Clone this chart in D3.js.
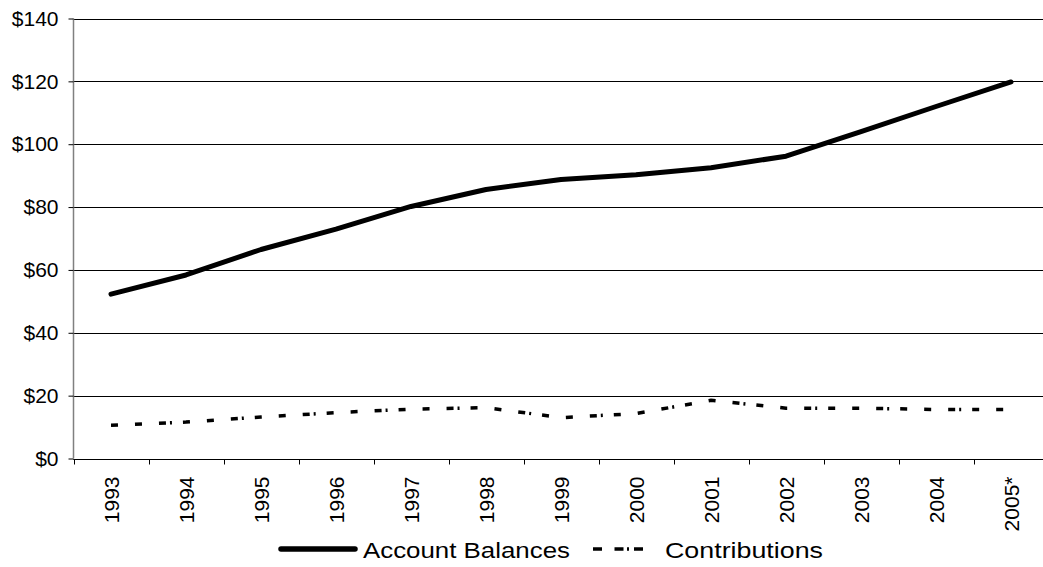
<!DOCTYPE html>
<html>
<head>
<meta charset="utf-8">
<script src="https://cdn.jsdelivr.net/npm/d3@7"></script>
<style>
  html, body { margin: 0; padding: 0; background: #fff; overflow: hidden; }
  svg { display: block; font-family: Arial, "Liberation Sans", sans-serif; }
</style>
</head>
<body>
<svg id="chart" width="1043" height="567"></svg>
<script>
// Years on the category axis
const years = ["1993", "1994", "1995", "1996", "1997", "1998", "1999",
               "2000", "2001", "2002", "2003", "2004", "2005*"];
// Account balances ($ billions)
const balances = [52.3, 58.4, 66.5, 73.0, 80.2, 85.6, 88.8,
                  90.3, 92.5, 96.2, 104.0, 112.0, 119.8];
// Annual contributions ($ billions)
const contributions = [10.6, 11.6, 13.2, 14.6, 15.7, 16.2, 13.0,
                       14.3, 18.5, 16.0, 16.0, 15.6, 15.6];
// Value-axis ticks
const yTicks = [0, 20, 40, 60, 80, 100, 120, 140];
// Series names for the legend
const seriesNames = ["Account Balances", "Contributions"];

const svg = d3.select("#chart");
const plotLeft = 73.5, plotTop = 18.5, plotW = 975, plotH = 440;

const x = d3.scaleBand().domain(years).range([plotLeft, plotLeft + plotW]).padding(0);
const y = d3.scaleLinear().domain([0, 140]).range([plotTop + plotH, plotTop]);

// Horizontal gridlines
svg.append("g")
  .selectAll("line")
  .data(yTicks)
  .join("line")
  .attr("x1", plotLeft).attr("x2", plotLeft + plotW)
  .attr("y1", d => Math.round(y(d)) + 0.5).attr("y2", d => Math.round(y(d)) + 0.5)
  .attr("stroke", "#000").attr("stroke-width", 1);

// Value axis
const yAxis = svg.append("g")
  .attr("transform", `translate(${plotLeft},0)`)
  .call(d3.axisLeft(y).tickValues(yTicks).tickSize(5).tickPadding(10)
        .tickFormat(d => "$" + d));
yAxis.select(".domain").attr("stroke", "#808080").attr("stroke-width", 1.5)
  .attr("d", `M0,${plotTop}V${plotTop + plotH}`);
yAxis.selectAll(".tick line").attr("stroke", "#000");
yAxis.selectAll(".tick text").attr("font-size", 21).attr("fill", "#000")
  .attr("font-family", "Arial, 'Liberation Sans', sans-serif");

// Category axis with ticks between the categories
const xAxisG = svg.append("g")
  .attr("transform", `translate(0,${Math.round(y(0)) + 0.5})`);
xAxisG.append("line")
  .attr("x1", plotLeft).attr("x2", plotLeft + plotW)
  .attr("stroke", "#000");
xAxisG.selectAll("line.tk")
  .data(years)
  .join("line")
  .attr("class", "tk")
  .attr("x1", d => Math.round(x(d)) + 0.5).attr("x2", d => Math.round(x(d)) + 0.5)
  .attr("y1", 0).attr("y2", 5)
  .attr("stroke", "#000");
xAxisG.selectAll("text")
  .data(years)
  .join("text")
  .attr("transform", d => `translate(${x(d) + x.bandwidth() / 2 + 7.5},17) rotate(-90)`)
  .attr("text-anchor", "end")
  .attr("font-size", 21)
  .text(d => d);

// Series lines
const line = d3.line()
  .x((d, i) => x(years[i]) + x.bandwidth() / 2)
  .y(d => y(d));

const dashPattern = "7,17,7,17,7,4,2,11";

svg.append("path")
  .datum(contributions)
  .attr("d", line)
  .attr("fill", "none")
  .attr("stroke", "#000")
  .attr("stroke-width", 3.5)
  .attr("stroke-dasharray", dashPattern);

svg.append("path")
  .datum(balances)
  .attr("d", line)
  .attr("fill", "none")
  .attr("stroke", "#000")
  .attr("stroke-width", 5)
  .attr("stroke-linecap", "round")
  .attr("stroke-linejoin", "round");

// Legend
const legend = svg.append("g").attr("transform", "translate(0,549)");
legend.append("line")
  .attr("x1", 281).attr("x2", 355).attr("y1", 0).attr("y2", 0)
  .attr("stroke", "#000").attr("stroke-width", 5.5).attr("stroke-linecap", "round");
legend.append("text")
  .attr("x", 363).attr("y", 9).attr("font-size", 21.5)
  .attr("textLength", 207).attr("lengthAdjust", "spacingAndGlyphs")
  .text(seriesNames[0]);
legend.append("line")
  .attr("x1", 593).attr("x2", 643).attr("y1", 0).attr("y2", 0)
  .attr("stroke", "#000").attr("stroke-width", 3.5)
  .attr("stroke-dasharray", "9,12.5,9,3.5,2,5,9,100");
legend.append("text")
  .attr("x", 665).attr("y", 9).attr("font-size", 21.5)
  .attr("textLength", 158).attr("lengthAdjust", "spacingAndGlyphs")
  .text(seriesNames[1]);
</script>
</body>
</html>
